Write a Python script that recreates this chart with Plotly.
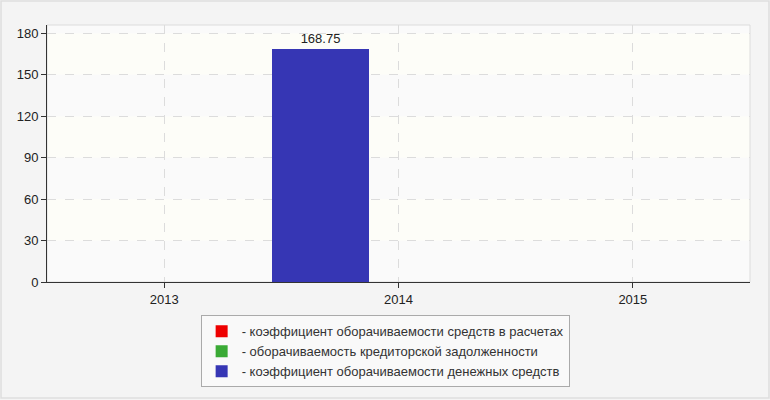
import plotly.graph_objects as go

# data
years = ['2013', '2014', '2015']
series_names = [
    '- коэффициент оборачиваемости средств в расчетах',
    '- оборачиваемость кредиторской задолженности',
    '- коэффициент оборачиваемости денежных средств',
]
receivables_turnover = [None, None, None]
payables_turnover = [None, None, None]
cash_turnover = [None, 168.75, None]
y_ticks = [0, 30, 60, 90, 120, 150, 180]

colors = ['#ee0000', '#3aaa35', '#3636b4']
values = [receivables_turnover, payables_turnover, cash_turnover]

fig = go.Figure()
for name, vals, col in zip(series_names, values, colors):
    fig.add_trace(go.Bar(
        x=years, y=vals, name=name,
        marker=dict(color=col, line=dict(width=0)),
        width=0.416, offset=-0.541,
        text=[f'{v:.2f}' if v is not None else '' for v in vals],
        textposition='outside', cliponaxis=False,
        textfont=dict(size=13, color='#222'),
    ))

# alternating bands in the plot area
shapes = []
for lo, hi in zip(y_ticks[1::2], y_ticks[2::2]):
    shapes.append(dict(type='rect', xref='paper', yref='y', x0=0, x1=1, y0=lo, y1=hi,
                       fillcolor='#fdfdf8', line=dict(width=0), layer='below'))
# light frame on top / right of the plot area
shapes.append(dict(type='rect', xref='paper', yref='paper', x0=0, x1=1, y0=0, y1=1,
                   line=dict(color='#dcdcdc', width=1), layer='below'))
# outer page border
shapes.append(dict(type='rect', xref='paper', yref='paper', x0=-0.0654, x1=1.027, y0=-0.451, y1=1.093,
                   line=dict(color='#dedede', width=1.5), layer='below'))

fig.update_layout(
    width=770, height=400,
    margin=dict(l=47, r=20, t=25, b=118),
    paper_bgcolor='#f4f4f4',
    plot_bgcolor='#fafafa',
    font=dict(family='Liberation Sans, Arial, sans-serif', size=13, color='#222'),
    barmode='overlay',
    bargap=0,
    shapes=shapes,
    legend=dict(
        x=0.481, y=-0.13, xanchor='center', yanchor='top',
        bgcolor='#f9f9f9', bordercolor='#aaaaaa', borderwidth=1,
        font=dict(size=13, color='#333'),
        traceorder='normal', itemclick=False, itemwidth=30,
        tracegroupgap=0,
    ),
    showlegend=True,
)
fig.update_xaxes(
    type='category', range=[-0.5, 2.5], showline=True, linecolor='#333', linewidth=1,
    ticks='outside', ticklen=5, tickcolor='#333',
    showgrid=True, gridcolor='#dcdcdc', griddash='dash', gridwidth=1,
    tickfont=dict(size=13, color='#222'),
)
fig.update_yaxes(
    range=[0, 186], tickvals=y_ticks, showline=True, linecolor='#333', linewidth=1,
    ticks='outside', ticklen=5, tickcolor='#333',
    showgrid=True, gridcolor='#dcdcdc', griddash='dash', gridwidth=1,
    zeroline=False, tickfont=dict(size=13, color='#222'),
)

# drop the default page margin so the figure sits at the window corner
fig.write_html("out.html", config={'displayModeBar': False},
               post_script="document.body.style.margin='0';")
